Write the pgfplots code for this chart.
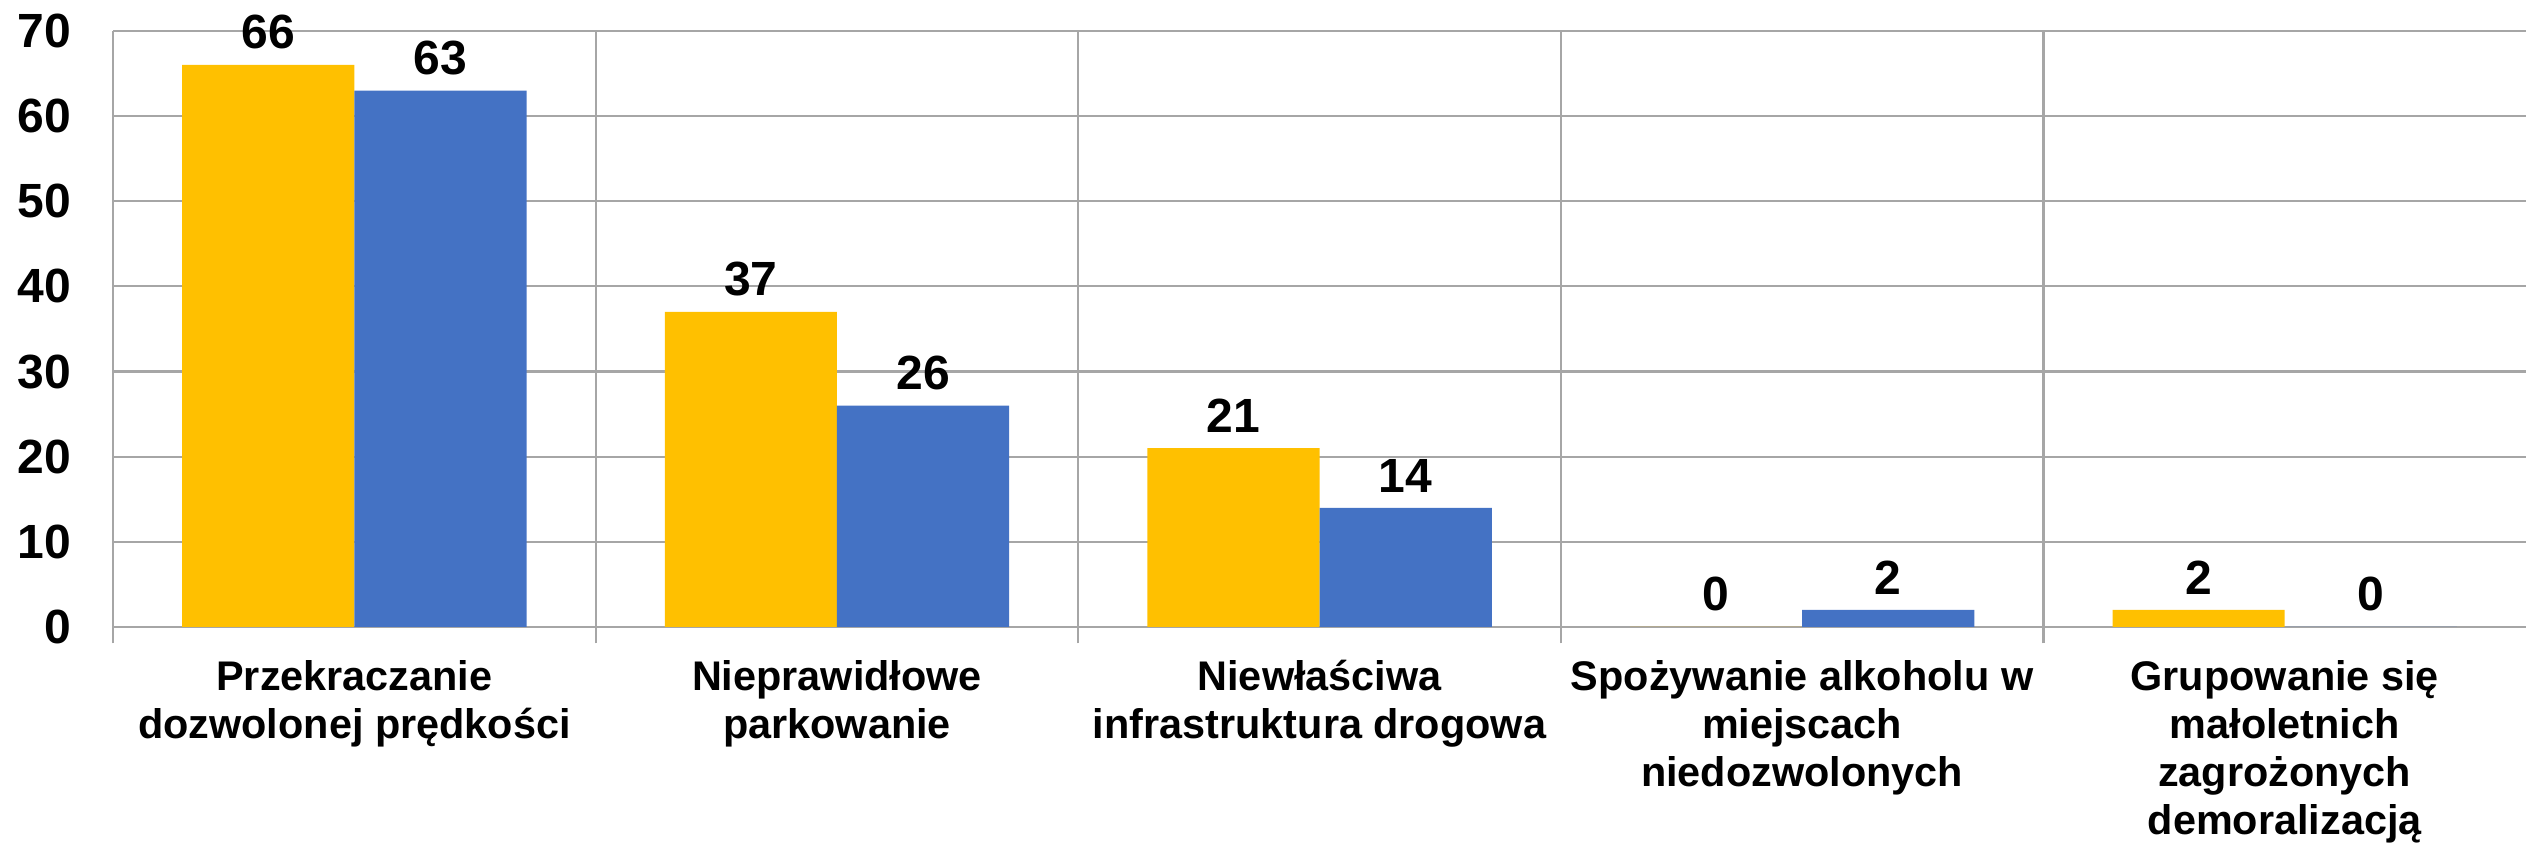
\documentclass[border=0pt]{standalone}
\usepackage{fontspec}
\setmainfont{Liberation Sans}
\usepackage{pgfplots}
\pgfplotsset{compat=1.18}
\definecolor{cyel}{HTML}{FFC000}
\definecolor{cblu}{HTML}{4472C4}
\definecolor{cgrid}{HTML}{A6A6A6}
\begin{document}
\begin{tikzpicture}
\begin{axis}[name=ax, scale only axis, width=804.3pt, height=198.7pt,
  ybar=0pt, bar width=57.4pt,
  xmin=-0.5, xmax=4.5, ymin=0, ymax=70,
  xtick={0,1,2,3,4},
  xticklabels={{Przekraczanie\\dozwolonej prędkości},{Nieprawidłowe\\parkowanie},{Niewłaściwa\\infrastruktura drogowa},{Spożywanie alkoholu w\\miejscach\\niedozwolonych},{Grupowanie się\\małoletnich\\zagrożonych\\demoralizacją}},
  minor xtick={-0.5,0.5,1.5,2.5,3.5},
  ytick={0,10,...,70},
  ymajorgrids, xminorgrids,
  grid style={cgrid, line width=0.7pt},
  minor grid style={cgrid, line width=0.7pt},
  axis x line*=bottom, axis y line*=left,
  axis line style={cgrid, line width=0.7pt, -},
  major tick length=0pt, minor tick length=5.5pt, tick align=outside,
  minor tick style={cgrid, line width=0.7pt},
  ytick style={draw=none},
  /pgf/number format/assume math mode=true,
  yticklabel style={font=\fontsize{16}{19}\selectfont\bfseries, xshift=-10.5pt},
  xticklabel style={font=\fontsize{13.8}{16}\selectfont\bfseries, align=center, anchor=north, yshift=-7.5pt},
  nodes near coords,
  every node near coord/.append style={font=\fontsize{16}{19}\selectfont\bfseries, black, yshift=1.7pt},
  clip=false,
]
\addplot[fill=cyel, draw=none] coordinates {(0,66) (1,37) (2,21) (3,0) (4,2)};
\addplot[fill=cblu, draw=none] coordinates {(0,63) (1,26) (2,14) (3,2) (4,0)};
\end{axis}
\pgfresetboundingbox
\path[use as bounding box] ([xshift=-37.7pt,yshift=-72.7pt]ax.south west) rectangle ([yshift=10.3pt]ax.north east);
\end{tikzpicture}
\end{document}
